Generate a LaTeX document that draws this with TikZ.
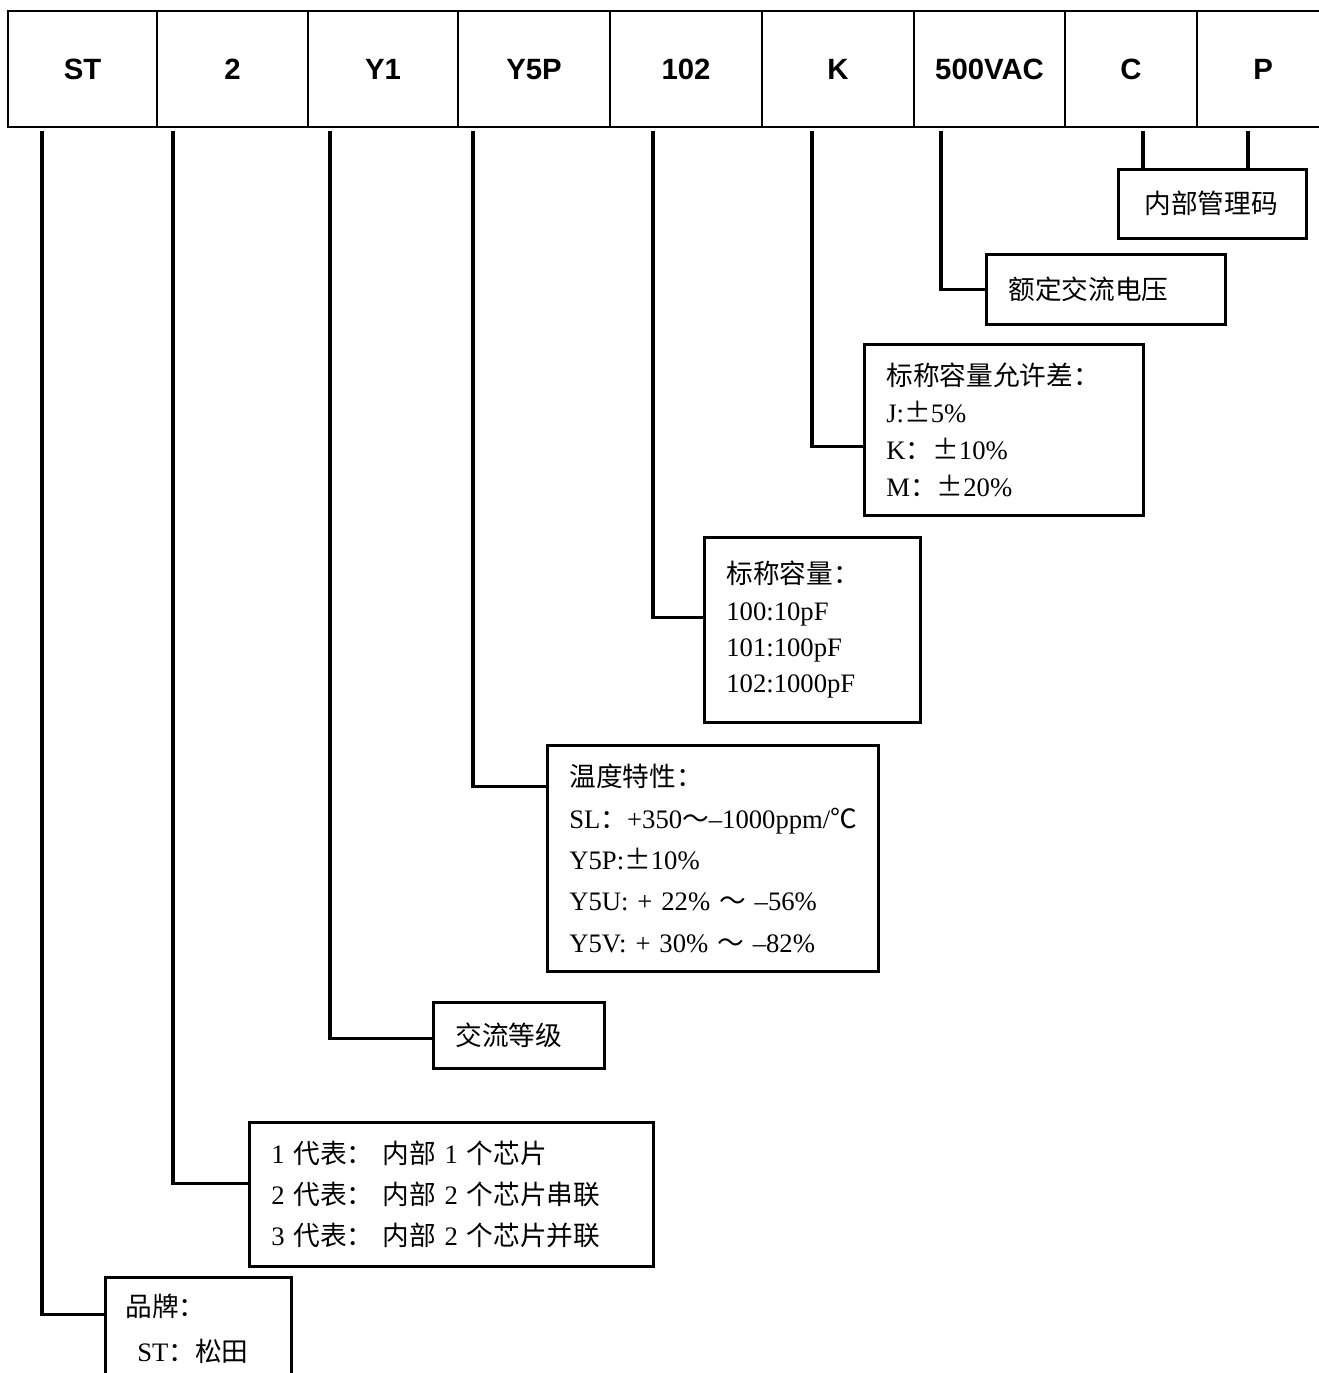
\documentclass[tikz,border=0pt]{standalone}
\usepackage{fontspec}
\setmainfont{Liberation Serif}
\newfontfamily\cjk{Noto Sans CJK SC}
\newfontfamily\hdrfont{Liberation Sans}
\newcommand\zh[1]{{\cjk #1}}
\begin{document}
\begin{tikzpicture}[x=0.75pt,y=-0.75pt,
  cell/.style={draw, line width=1.6pt, anchor=north west, minimum height=87pt,
    inner sep=0pt, font=\hdrfont\bfseries\fontsize{22}{26}\selectfont},
  tbox/.style={draw, line width=2pt, anchor=north west, inner xsep=16.5pt,
    inner ysep=0pt, align=left, font=\fontsize{20}{27.75}\selectfont},
  conn/.style={line width=2.4pt}]
\clip (0,0) rectangle (1319,1373);
\fill[white] (0,0) rectangle (1319,1373);
% header
\node[cell, minimum width=111.75pt] (hST)  at (7,10)    {ST};
\node[cell, minimum width=113.25pt] (h2)   at (156,10)  {2};
\node[cell, minimum width=112.5pt]  (hY1)  at (307,10)  {Y1};
\node[cell, minimum width=114pt]    (hY5P) at (457,10)  {Y5P};
\node[cell, minimum width=114pt]    (h102) at (609,10)  {102};
\node[cell, minimum width=114pt]    (hK)   at (761,10)  {K};
\node[cell, minimum width=113.25pt] (hV)   at (913,10)  {500VAC};
\node[cell, minimum width=99pt]     (hC)   at (1064,10) {C};
\node[cell, minimum width=99pt]     (hP)   at (1196,10) {P};
% drop points
\coordinate (dST) at (42,131);
\coordinate (d2) at (173,131);
\coordinate (dY1) at (330,131);
\coordinate (dY5P) at (473,131);
\coordinate (d102) at (653,131);
\coordinate (dK) at (812,131);
\coordinate (dV) at (941,131);
\coordinate (dC) at (1143,131);
\coordinate (dP) at (1248,131);
% boxes
\node[tbox, minimum width=141pt, minimum height=51.75pt, text width=102pt, inner xsep=19.5pt]
  (mgmt) at (1117,168) {\zh{内部管理码}};
\node[tbox, minimum width=179.25pt, minimum height=52.5pt, text width=146.25pt]
  (volt) at (985,253) {\zh{额定交流电压}};
\node[tbox, minimum width=209.25pt, minimum height=128.25pt, text width=176.25pt]
  (tol) at (863,343) {\zh{标称容量允许差：}\\J:\zh{±}5\%\\K\zh{：±}10\%\\M\zh{：±}20\%};
\node[tbox, minimum width=162pt, minimum height=138.75pt, text width=129pt,
  font=\fontsize{20}{27.2}\selectfont]
  (cap) at (703,536) {\zh{标称容量：}\\100:10pF\\101:100pF\\102:1000pF};
\node[tbox, minimum width=248.25pt, minimum height=169.5pt, text width=215.25pt,
  font=\fontsize{20}{31}\selectfont]
  (temp) at (546,744) {\zh{温度特性：}\\\mbox{SL\zh{：}+350\zh{～}--1000ppm/\zh{℃}}\\Y5P:\zh{±}10\%\\\mbox{Y5U: + 22\% \zh{～} --56\%}\\\mbox{Y5V: + 30\% \zh{～} --82\%}};
\node[tbox, minimum width=128.25pt, minimum height=49.5pt, text width=95.25pt]
  (ac) at (432,1001) {\zh{交流等级}};
\node[tbox, minimum width=303pt, minimum height=108pt, text width=270pt,
  font=\fontsize{20}{31}\selectfont]
  (chips) at (248,1121) {1 \zh{代表：} \zh{内部} 1 \zh{个芯片}\\2 \zh{代表：} \zh{内部} 2 \zh{个芯片串联}\\3 \zh{代表：} \zh{内部} 2 \zh{个芯片并联}};
\node[tbox, minimum width=139.5pt, minimum height=77.25pt, text width=109.5pt, inner xsep=15pt,
  font=\fontsize{20}{34}\selectfont]
  (brand) at (104,1276) {\zh{品牌：}\\\hspace*{9pt}ST\zh{：松田}};
% connectors
\draw[conn] (dC) -- (dC |- mgmt.north);
\draw[conn] (dP) -- (dP |- mgmt.north);
\draw[conn] (dV) |- (volt.west);
\draw[conn] (dK) |- ([yshift=-12.4pt]tol.west);
\draw[conn] (d102) |- ([yshift=9.4pt]cap.west);
\draw[conn] (dY5P) |- ([yshift=54pt]temp.west);
\draw[conn] (dY1) |- ([yshift=-2.25pt]ac.west);
\draw[conn] (d2) |- ([yshift=8.25pt]chips.west);
\draw[conn] (dST) |- ([yshift=10.9pt]brand.west);
\end{tikzpicture}
\end{document}
